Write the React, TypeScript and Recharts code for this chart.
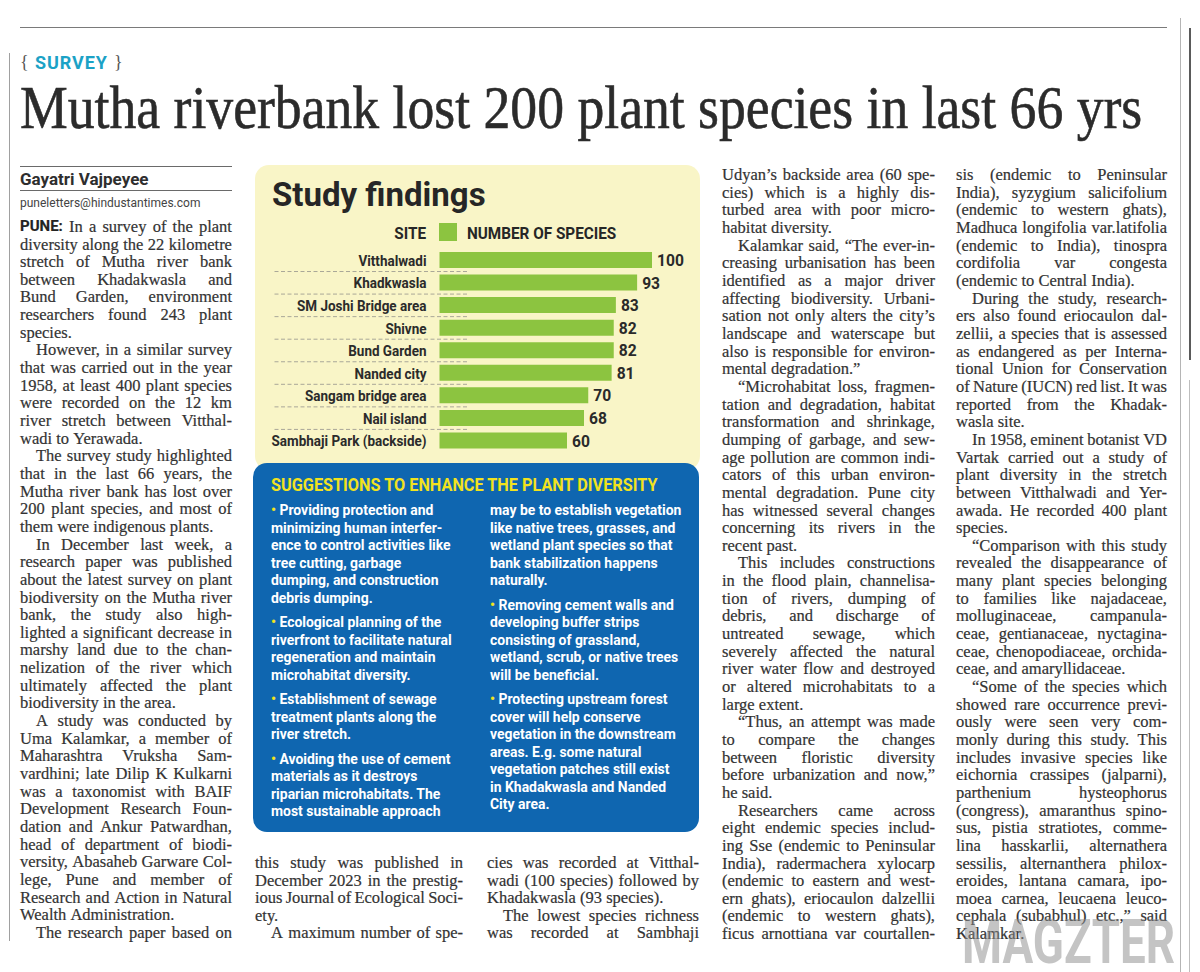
import React from 'react';
import { BarChart, Bar, XAxis, YAxis, LabelList } from 'recharts';

// "Study findings" – number of plant species recorded per site on the Mutha riverbank.
const SITES = [
  'Vitthalwadi',
  'Khadkwasla',
  'SM Joshi Bridge area',
  'Shivne',
  'Bund Garden',
  'Nanded city',
  'Sangam bridge area',
  'Nail island',
  'Sambhaji Park (backside)',
];
const SPECIES = [100, 93, 83, 82, 82, 81, 70, 68, 60];

const HEADLINE = 'Mutha riverbank lost 200 plant species in last 66 yrs';
const TIPS_TITLE = 'SUGGESTIONS TO ENHANCE THE PLANT DIVERSITY';

// Article columns. ">" = paragraph indent, "|" = last line of a paragraph (not justified).
const COL1 = [
  'PUNE: In a survey of the plant',
  'diversity along the 22 kilometre',
  'stretch of Mutha river bank',
  'between Khadakwasla and',
  'Bund Garden, environment',
  'researchers found 243 plant',
  'species.|',
  '>However, in a similar survey',
  'that was carried out in the year',
  '1958, at least 400 plant species',
  'were recorded on the 12 km',
  'river stretch between Vitthal-',
  'wadi to Yerawada.|',
  '>The survey study highlighted',
  'that in the last 66 years, the',
  'Mutha river bank has lost over',
  '200 plant species, and most of',
  'them were indigenous plants.|',
  '>In December last week, a',
  'research paper was published',
  'about the latest survey on plant',
  'biodiversity on the Mutha river',
  'bank, the study also high-',
  'lighted a significant decrease in',
  'marshy land due to the chan-',
  'nelization of the river which',
  'ultimately affected the plant',
  'biodiversity in the area.|',
  '>A study was conducted by',
  'Uma Kalamkar, a member of',
  'Maharashtra Vruksha Sam-',
  'vardhini; late Dilip K Kulkarni',
  'was a taxonomist with BAIF',
  'Development Research Foun-',
  'dation and Ankur Patwardhan,',
  'head of department of biodi-',
  'versity, Abasaheb Garware Col-',
  'lege, Pune and member of',
  'Research and Action in Natural',
  'Wealth Administration.|',
  '>The research paper based on',
];

const COL2 = [
  'this study was published in',
  'December 2023 in the prestig-',
  'ious Journal of Ecological Soci-',
  'ety.|',
  '>A maximum number of spe-',
];

const COL3 = [
  'cies was recorded at Vitthal-',
  'wadi (100 species) followed by',
  'Khadakwasla (93 species).|',
  '>The lowest species richness',
  'was recorded at Sambhaji',
];

const COL4 = [
  'Udyan\u2019s backside area (60 spe-',
  'cies) which is a highly dis-',
  'turbed area with poor micro-',
  'habitat diversity.|',
  '>Kalamkar said, \u201cThe ever-in-',
  'creasing urbanisation has been',
  'identified as a major driver',
  'affecting biodiversity. Urbani-',
  'sation not only alters the city\u2019s',
  'landscape and waterscape but',
  'also is responsible for environ-',
  'mental degradation.\u201d|',
  '>\u201cMicrohabitat loss, fragmen-',
  'tation and degradation, habitat',
  'transformation and shrinkage,',
  'dumping of garbage, and sew-',
  'age pollution are common indi-',
  'cators of this urban environ-',
  'mental degradation. Pune city',
  'has witnessed several changes',
  'concerning its rivers in the',
  'recent past.|',
  '>This includes constructions',
  'in the flood plain, channelisa-',
  'tion of rivers, dumping of',
  'debris, and discharge of',
  'untreated sewage, which',
  'severely affected the natural',
  'river water flow and destroyed',
  'or altered microhabitats to a',
  'large extent.|',
  '>\u201cThus, an attempt was made',
  'to compare the changes',
  'between floristic diversity',
  'before urbanization and now,\u201d',
  'he said.|',
  '>Researchers came across',
  'eight endemic species includ-',
  'ing Sse (endemic to Peninsular',
  'India), radermachera xylocarp',
  '(endemic to eastern and west-',
  'ern ghats), eriocaulon dalzellii',
  '(endemic to western ghats),',
  'ficus arnottiana var courtallen-',
];

const COL5 = [
  'sis (endemic to Peninsular',
  'India), syzygium salicifolium',
  '(endemic to western ghats),',
  'Madhuca longifolia var.latifolia',
  '(endemic to India), tinospra',
  'cordifolia var congesta',
  '(endemic to Central India).|',
  '>During the study, research-',
  'ers also found eriocaulon dal-',
  'zellii, a species that is assessed',
  'as endangered as per Interna-',
  'tional Union for Conservation',
  'of Nature (IUCN) red list. It was',
  'reported from the Khadak-',
  'wasla site.|',
  '>In 1958, eminent botanist VD',
  'Vartak carried out a study of',
  'plant diversity in the stretch',
  'between Vitthalwadi and Yer-',
  'awada. He recorded 400 plant',
  'species.|',
  '>\u201cComparison with this study',
  'revealed the disappearance of',
  'many plant species belonging',
  'to families like najadaceae,',
  'molluginaceae, campanula-',
  'ceae, gentianaceae, nyctagina-',
  'ceae, chenopodiaceae, orchida-',
  'ceae, and amaryllidaceae.|',
  '>\u201cSome of the species which',
  'showed rare occurrence previ-',
  'ously were seen very com-',
  'monly during this study. This',
  'includes invasive species like',
  'eichornia crassipes (jalparni),',
  'parthenium hysteophorus',
  '(congress), amaranthus spino-',
  'sus, pistia stratiotes, comme-',
  'lina hasskarlii, alternathera',
  'sessilis, alternanthera philox-',
  'eroides, lantana camara, ipo-',
  'moea carnea, leucaena leuco-',
  'cephala (subabhul) etc.,\u201d said',
  'Kalamkar.|',
];

// Suggestions box, one array per paragraph.
const TIPS_LEFT = [
  ['\u2022 Providing protection and', 'minimizing human interfer-', 'ence to control activities like', 'tree cutting, garbage', 'dumping, and construction', 'debris dumping.'],
  ['\u2022 Ecological planning of the', 'riverfront to facilitate natural', 'regeneration and maintain', 'microhabitat diversity.'],
  ['\u2022 Establishment of sewage', 'treatment plants along the', 'river stretch.'],
  ['\u2022 Avoiding the use of cement', 'materials as it destroys', 'riparian microhabitats. The', 'most sustainable approach'],
];
const TIPS_RIGHT = [
  ['may be to establish vegetation', 'like native trees, grasses, and', 'wetland plant species so that', 'bank stabilization happens', 'naturally.'],
  ['\u2022 Removing cement walls and', 'developing buffer strips', 'consisting of grassland,', 'wetland, scrub, or native trees', 'will be beneficial.'],
  ['\u2022 Protecting upstream forest', 'cover will help conserve', 'vegetation in the downstream', 'areas. E.g. some natural', 'vegetation patches still exist', 'in Khadakwasla and Nanded', 'City area.'],
];

const GREEN = '#8cc440';
const PAPER_YELLOW = '#f9f5c7';
const BOX_BLUE = '#0f66b0';
const TIP_YELLOW = '#f2e21e';
const INK = '#333333';
const SERIF = '"Liberation Serif", "DejaVu Serif", serif';
const SANS = 'Roboto, "Open Sans", "Liberation Sans", sans-serif';

const chartData = SITES.map((site, i) => ({ site, species: SPECIES[i] }));

// Category label plus the dashed rule under each row except the last.
function SiteTick(props: any) {
  const { x, y, payload } = props;
  const i = SITES.indexOf(payload.value);
  return (
    <g>
      {i < SITES.length - 1 && (
        <line
          x1={x - 152}
          x2={x + 41}
          y1={y + 11.25}
          y2={y + 11.25}
          stroke="#a9a798"
          strokeWidth={1}
          strokeDasharray="4 2.5"
        />
      )}
      <text
        transform={`translate(${x},${y}) scale(0.87,1)`}
        dy="0.36em"
        textAnchor="end"
        fontFamily={SANS}
        fontWeight={700}
        fontSize={15.5}
        fill="#2b2b2b"
      >
        {payload.value}
      </text>
    </g>
  );
}

function ValueLabel(props: any) {
  const { x, y, width, height, value } = props;
  const cx = Number(x) + Number(width) + 5;
  const cy = Number(y) + Number(height) / 2;
  return (
    <text
      transform={`translate(${cx},${cy}) scale(0.92,1)`}
      dy="0.36em"
      fontFamily={SANS}
      fontWeight={700}
      fontSize={17}
      fill="#2a2a2a"
    >
      {value}
    </text>
  );
}

function FindingsChart() {
  return (
    <BarChart
      width={447}
      height={203}
      data={chartData}
      layout="vertical"
      margin={{ top: 0, right: 50, bottom: 0, left: 0 }}
    >
      <XAxis type="number" domain={[0, 100]} hide />
      <YAxis
        type="category"
        dataKey="site"
        width={184.5}
        tickSize={0}
        tickMargin={13}
        axisLine={false}
        tickLine={false}
        tick={<SiteTick />}
        interval={0}
      />
      <Bar dataKey="species" fill={GREEN} barSize={16} isAnimationActive={false}>
        <LabelList dataKey="species" content={<ValueLabel />} />
      </Bar>
    </BarChart>
  );
}

function Column({ lines, left, width, first, lh }: { lines: string[]; left: number; width: number; first: number; lh: number }) {
  return (
    <>
      {lines.map((raw, i) => {
        let t = raw;
        const indent = t.startsWith('>');
        if (indent) t = t.slice(1);
        const last = t.endsWith('|');
        if (last) t = t.slice(0, -1);
        const words = t.split(' ');
        const pad = indent ? 16 : 0;
        return (
          <div
            key={i}
            style={{
              position: 'absolute',
              left: left + pad,
              top: first + i * lh - lh / 2,
              width: width - pad,
              height: lh,
              lineHeight: `${lh}px`,
              display: 'flex',
              justifyContent: last ? 'flex-start' : 'space-between',
              columnGap: last ? '0.25em' : '2px',
              whiteSpace: 'nowrap',
              fontFamily: SERIF,
              fontSize: 16.5,
              color: INK,
              WebkitTextStroke: '0.2px #333333',
            }}
          >
            {words.map((w, k) => (
              <span
                key={k}
                style={w === 'PUNE:' ? { fontFamily: SANS, fontWeight: 700, fontSize: 15, color: '#222' } : undefined}
              >
                {w}
              </span>
            ))}
          </div>
        );
      })}
    </>
  );
}

function TipLines({ paras, x, y0 }: { paras: string[][]; x: number; y0: number }) {
  const out: React.ReactNode[] = [];
  let y = y0;
  paras.forEach((para, p) => {
    para.forEach((line, l) => {
      const bullet = line.startsWith('\u2022 ');
      out.push(
        <text
          key={`${p}-${l}`}
          transform={`translate(${x},${y}) scale(0.93,1)`}
          fontFamily={SANS}
          fontWeight={700}
          fontSize={15}
          fill="#ffffff"
        >
          {bullet && <tspan fill={TIP_YELLOW}>{'\u2022'}</tspan>}
          {bullet ? line.slice(1) : line}
        </text>
      );
      y += 17.5;
    });
    y += 7;
  });
  return <>{out}</>;
}

function rule(left: number, top: number, width: number, height: number, bg: string) {
  return <div style={{ position: 'absolute', left, top, width, height, background: bg }} />;
}

export default function App() {
  return (
    <div
      style={{
        position: 'absolute',
        left: 0,
        top: 0,
        width: 1200,
        height: 972,
        background: '#ffffff',
        overflow: 'hidden',
      }}
    >
      {rule(20, 27, 1147, 1, '#7a7a7a')}
      {rule(9, 53, 1, 888, '#a0a0a0')}
      {rule(20, 166, 212, 1, '#6a6a6a')}
      {rule(20, 190, 212, 1, '#6a6a6a')}
      {rule(1180, 18, 1, 954, '#b5b5b5')}
      {rule(1189, 28, 2, 332, '#5a5a5a')}
      {rule(1189, 380, 1, 592, '#bdbdbd')}

      <div
        style={{
          position: 'absolute',
          left: 255,
          top: 165,
          width: 445,
          height: 305,
          background: PAPER_YELLOW,
          borderRadius: 14,
        }}
      />
      <div
        style={{
          position: 'absolute',
          left: 253,
          top: 463,
          width: 446,
          height: 369,
          background: BOX_BLUE,
          borderRadius: 14,
        }}
      />

      <div style={{ position: 'absolute', left: 255, top: 249 }}>
        <FindingsChart />
      </div>

      <svg
        width={1200}
        height={972}
        style={{ position: 'absolute', left: 0, top: 0, pointerEvents: 'none' }}
      >
        <text x={20} y={68} fontFamily={SERIF} fontSize={18} fill="#555">{'{'}</text>
        <text x={35} y={69} fontFamily={SANS} fontWeight={700} fontSize={18} letterSpacing={0.9} fill="#1ba2c6">
          SURVEY
        </text>
        <text x={114} y={68} fontFamily={SERIF} fontSize={18} fill="#555">{'}'}</text>

        <text
          transform="translate(20,128) scale(0.88,1)"
          fontFamily={SERIF}
          fontSize={61}
          fill="#2b2b2b"
          stroke="#2b2b2b"
          strokeWidth={0.6}
        >
          {HEADLINE}
        </text>

        <text x={20} y={185} fontFamily={SANS} fontWeight={700} fontSize={17} fill="#2e2e2e">
          Gayatri Vajpeyee
        </text>
        <text x={20} y={207} fontFamily={SANS} fontSize={12} fill="#444">
          puneletters@hindustantimes.com
        </text>

        <text x={272} y={206} fontFamily={SANS} fontWeight={700} fontSize={33} fill="#262626">
          Study findings
        </text>
        <text
          transform="translate(426,239) scale(0.9,1)"
          textAnchor="end"
          fontFamily={SANS}
          fontWeight={700}
          fontSize={17}
          fill="#262626"
        >
          SITE
        </text>
        <rect x={439} y={223} width={18} height={18} fill={GREEN} />
        <text
          transform="translate(467,239) scale(0.9,1)"
          fontFamily={SANS}
          fontWeight={700}
          fontSize={17}
          fill="#262626"
        >
          NUMBER OF SPECIES
        </text>

        <text
          transform="translate(271,491) scale(0.93,1)"
          fontFamily={SANS}
          fontWeight={700}
          fontSize={17.5}
          fill={TIP_YELLOW}
        >
          {TIPS_TITLE}
        </text>
        <TipLines paras={TIPS_LEFT} x={271} y0={515} />
        <TipLines paras={TIPS_RIGHT} x={490} y0={515} />
      </svg>

      <Column lines={COL1} left={20} width={212} first={226.7} lh={17.65} />
      <Column lines={COL2} left={255} width={208} first={863} lh={17.5} />
      <Column lines={COL3} left={487} width={212} first={863} lh={17.5} />
      <Column lines={COL4} left={722} width={213} first={175} lh={17.65} />
      <Column lines={COL5} left={956} width={211} first={175} lh={17.65} />

      <svg
        width={1200}
        height={972}
        style={{ position: 'absolute', left: 0, top: 0, pointerEvents: 'none' }}
      >
        <text
          x={962}
          y={963}
          fontFamily={SANS}
          fontWeight={700}
          fontSize={62}
          fill="#8a8a8a"
          opacity={0.5}
          textLength={213}
          lengthAdjust="spacingAndGlyphs"
        >
          MAGZTER
        </text>
      </svg>
    </div>
  );
}
